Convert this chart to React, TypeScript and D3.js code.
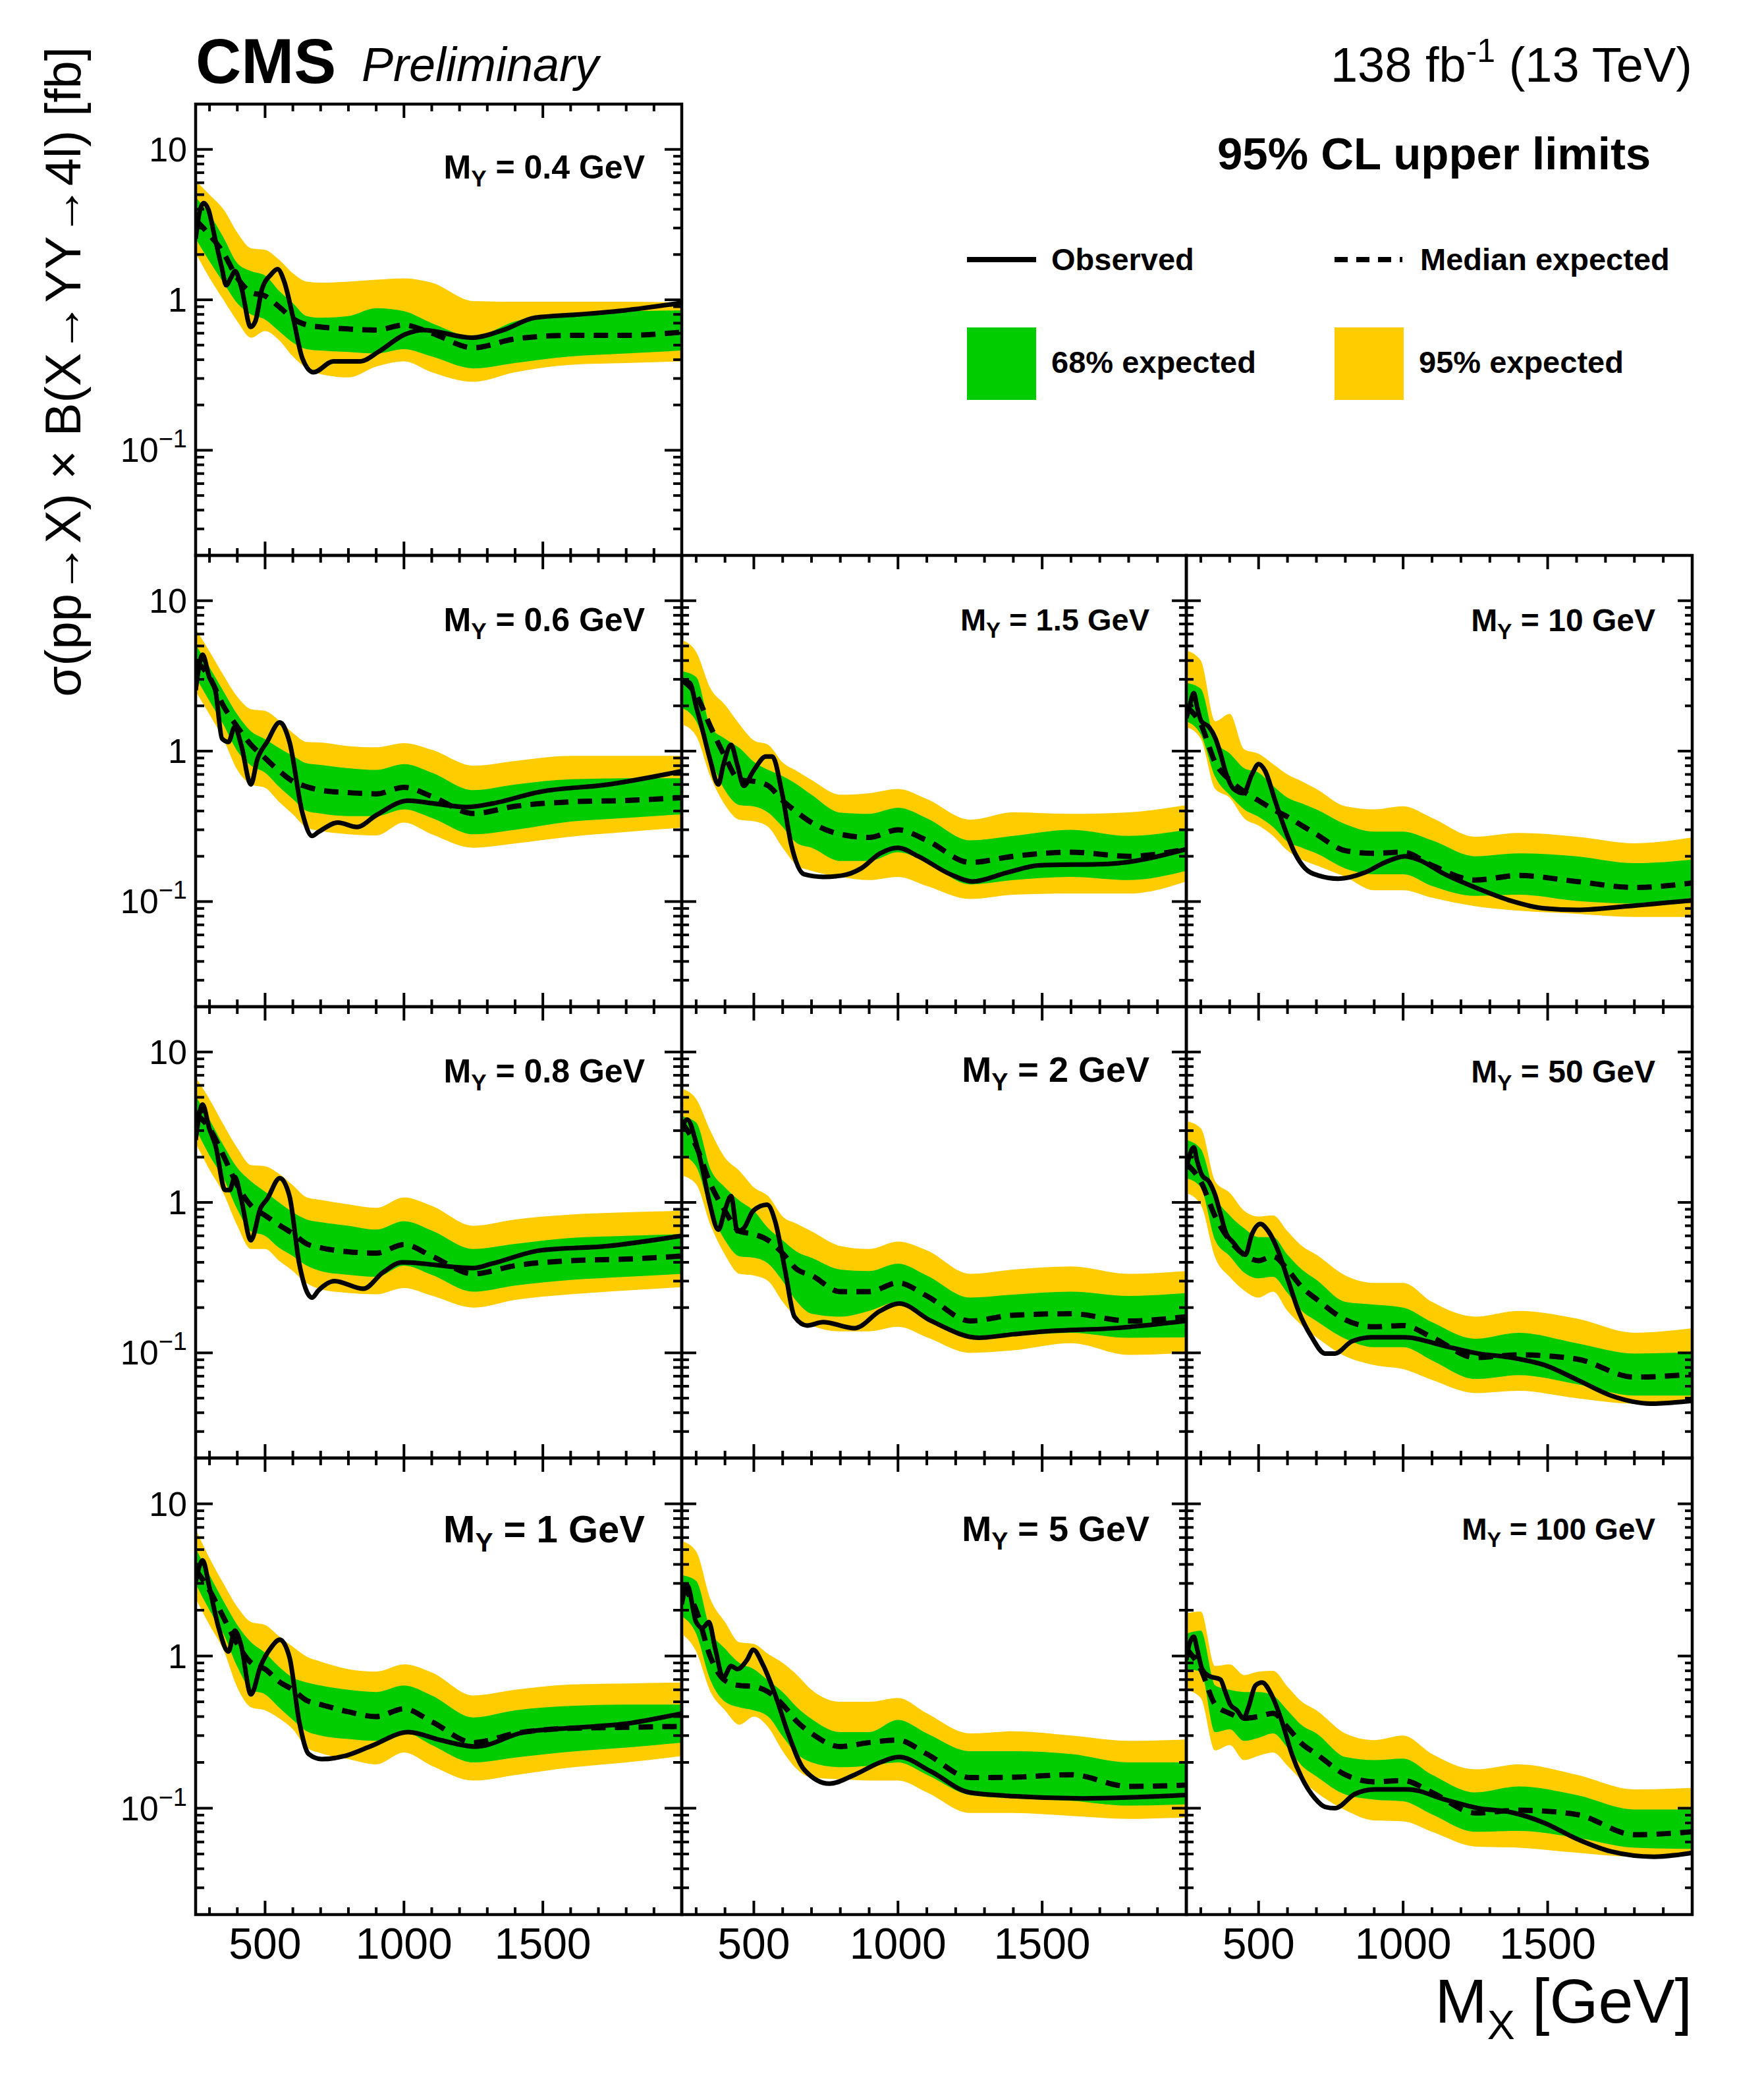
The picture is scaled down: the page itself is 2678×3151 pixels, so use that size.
import * as d3 from 'd3';

const FONT = '"Liberation Sans", Arial, Helvetica, sans-serif';
const GREEN = '#00cc00';
const YELLOW = '#ffcc00';

// M_X grid (GeV) on which the expected limit and the bands are read
const massGrid = [250, 300, 350, 400, 450, 500, 550, 600, 650, 700, 800, 900, 1000, 1100, 1250, 1400, 1600, 1800, 2000];

// M_Y = 0.4 GeV
const hi95_04 = [6.2, 5.0, 4.0, 2.8, 2.2, 2.15, 1.85, 1.5, 1.32, 1.3, 1.32, 1.36, 1.39, 1.3, 0.98, 0.97, 0.97, 0.97, 0.96];
const hi68_04 = [4.8, 3.7, 2.6, 1.75, 1.55, 1.45, 1.15, 0.95, 0.78, 0.76, 0.78, 0.88, 0.84, 0.7, 0.57, 0.72, 0.82, 0.84, 0.85];
const exp_04 = [3.4, 2.7, 2.05, 1.4, 1.12, 1.06, 0.9, 0.75, 0.68, 0.66, 0.64, 0.63, 0.68, 0.6, 0.48, 0.55, 0.58, 0.58, 0.61];
const lo68_04 = [2.55, 1.8, 1.3, 0.95, 0.8, 0.74, 0.62, 0.52, 0.47, 0.46, 0.45, 0.44, 0.47, 0.42, 0.35, 0.38, 0.42, 0.44, 0.46];
const lo95_04 = [2.05, 1.4, 1.0, 0.72, 0.56, 0.62, 0.54, 0.42, 0.35, 0.32, 0.305, 0.36, 0.39, 0.33, 0.285, 0.33, 0.37, 0.38, 0.39];
const obs_04 = [[250, 2.55], [263, 3.75], [279, 4.4], [296, 3.97], [320, 2.55], [344, 1.64], [360, 1.25], [376, 1.39], [392, 1.55], [416, 1.18], [448, 0.66], [465, 0.72], [489, 1.18], [521, 1.47], [545, 1.6], [569, 1.32], [601, 0.76], [634, 0.41], [674, 0.33], [746, 0.39], [843, 0.39], [907, 0.45], [1004, 0.59], [1068, 0.63], [1245, 0.56], [1358, 0.63], [1471, 0.76], [1632, 0.8], [1793, 0.85], [2000, 0.955]];

// M_Y = 0.6 GeV
const hi95_06 = [6.5, 4.6, 3.2, 2.3, 1.9, 1.85, 1.6, 1.32, 1.15, 1.14, 1.08, 1.06, 1.13, 1.02, 0.8, 0.86, 0.93, 0.93, 0.93];
const hi68_06 = [5.1, 3.6, 2.5, 1.75, 1.35, 1.2, 1.05, 0.93, 0.83, 0.81, 0.77, 0.75, 0.82, 0.72, 0.55, 0.6, 0.65, 0.66, 0.66];
const exp_06 = [4.0, 3.1, 2.0, 1.45, 1.1, 0.9, 0.74, 0.63, 0.58, 0.55, 0.53, 0.52, 0.575, 0.5, 0.385, 0.43, 0.46, 0.47, 0.49];
const lo68_06 = [3.1, 2.15, 1.5, 1.0, 0.8, 0.72, 0.58, 0.48, 0.4, 0.385, 0.37, 0.37, 0.41, 0.36, 0.28, 0.3, 0.34, 0.36, 0.38];
const lo95_06 = [2.5, 1.75, 1.2, 0.75, 0.6, 0.57, 0.46, 0.38, 0.31, 0.295, 0.28, 0.275, 0.335, 0.28, 0.228, 0.243, 0.27, 0.29, 0.31];
const obs_06 = [[250, 2.54], [275, 4.37], [299, 3.11], [322, 2.48], [345, 1.21], [368, 1.15], [391, 1.45], [414, 1.1], [449, 0.6], [472, 0.88], [507, 1.15], [553, 1.55], [588, 1.15], [634, 0.39], [669, 0.273], [692, 0.29], [762, 0.335], [831, 0.313], [900, 0.375], [1016, 0.469], [1109, 0.448], [1225, 0.425], [1317, 0.448], [1491, 0.537], [1734, 0.6], [2000, 0.736]];

// M_Y = 0.8 GeV
const hi95_08 = [6.8, 4.85, 3.3, 2.3, 1.77, 1.74, 1.55, 1.3, 1.08, 1.04, 0.97, 0.92, 1.08, 0.95, 0.7, 0.77, 0.83, 0.86, 0.88];
const hi68_08 = [5.1, 3.55, 2.4, 1.7, 1.38, 1.18, 1.0, 0.86, 0.77, 0.74, 0.7, 0.66, 0.75, 0.65, 0.49, 0.53, 0.58, 0.6, 0.615];
const exp_08 = [3.9, 3.1, 2.05, 1.3, 0.95, 0.82, 0.71, 0.62, 0.53, 0.5, 0.47, 0.46, 0.525, 0.44, 0.335, 0.38, 0.41, 0.42, 0.44];
const lo68_08 = [3.1, 2.05, 1.45, 0.9, 0.64, 0.6, 0.5, 0.44, 0.38, 0.35, 0.33, 0.32, 0.38, 0.33, 0.255, 0.28, 0.305, 0.32, 0.335];
const lo95_08 = [2.48, 1.65, 1.15, 0.7, 0.49, 0.49, 0.41, 0.35, 0.29, 0.265, 0.25, 0.245, 0.27, 0.24, 0.2, 0.225, 0.245, 0.26, 0.273];
const obs_08 = [[250, 2.6], [275, 4.47], [299, 3.11], [322, 2.37], [356, 1.21], [373, 1.21], [391, 1.48], [414, 1.05], [449, 0.56], [484, 0.92], [507, 1.05], [553, 1.45], [588, 1.1], [623, 0.392], [669, 0.233], [692, 0.26], [750, 0.3], [854, 0.267], [924, 0.342], [993, 0.4], [1248, 0.366], [1317, 0.392], [1491, 0.48], [1734, 0.513], [2000, 0.6]];

// M_Y = 1 GeV
const hi95_1 = [6.8, 4.4, 3.0, 2.1, 1.67, 1.6, 1.35, 1.15, 0.99, 0.92, 0.82, 0.79, 0.88, 0.78, 0.55, 0.6, 0.65, 0.66, 0.67];
const hi68_1 = [5.1, 3.4, 2.3, 1.6, 1.23, 1.05, 0.85, 0.72, 0.67, 0.64, 0.6, 0.58, 0.64, 0.55, 0.395, 0.44, 0.47, 0.48, 0.48];
const exp_1 = [3.7, 2.7, 1.8, 1.2, 0.9, 0.82, 0.68, 0.6, 0.51, 0.48, 0.43, 0.4, 0.45, 0.37, 0.27, 0.31, 0.335, 0.34, 0.345];
const lo68_1 = [2.98, 2.0, 1.4, 0.85, 0.6, 0.56, 0.46, 0.38, 0.32, 0.3, 0.285, 0.277, 0.316, 0.26, 0.2, 0.215, 0.235, 0.25, 0.27];
const lo95_1 = [2.39, 1.6, 1.1, 0.62, 0.46, 0.44, 0.39, 0.33, 0.25, 0.23, 0.21, 0.194, 0.232, 0.19, 0.152, 0.165, 0.185, 0.2, 0.22];
const obs_1 = [[250, 3.05], [275, 4.26], [299, 2.86], [333, 1.53], [368, 1.07], [391, 1.47], [414, 1.17], [449, 0.56], [484, 0.86], [519, 1.12], [553, 1.28], [588, 0.98], [623, 0.37], [657, 0.227], [704, 0.21], [785, 0.22], [877, 0.254], [1016, 0.316], [1132, 0.28], [1259, 0.254], [1433, 0.316], [1618, 0.338], [1803, 0.36], [2000, 0.42]];

// M_Y = 1.5 GeV
const hi95_15 = [5.47, 4.57, 2.6, 2.03, 1.51, 1.18, 1.1, 0.84, 0.736, 0.643, 0.513, 0.525, 0.56, 0.48, 0.35, 0.392, 0.383, 0.392, 0.438];
const hi68_15 = [3.4, 3.11, 1.45, 1.21, 1.05, 0.85, 0.75, 0.68, 0.6, 0.513, 0.39, 0.383, 0.42, 0.358, 0.255, 0.273, 0.3, 0.273, 0.3];
const exp_15 = [2.97, 2.37, 1.45, 0.92, 0.643, 0.63, 0.588, 0.469, 0.392, 0.335, 0.28, 0.267, 0.3, 0.255, 0.182, 0.2, 0.213, 0.2, 0.223];
const lo68_15 = [1.94, 1.58, 0.88, 0.549, 0.438, 0.429, 0.39, 0.313, 0.244, 0.228, 0.186, 0.186, 0.213, 0.182, 0.13, 0.139, 0.146, 0.139, 0.16];
const lo95_15 = [1.51, 1.26, 0.673, 0.438, 0.35, 0.342, 0.313, 0.228, 0.174, 0.16, 0.146, 0.139, 0.146, 0.127, 0.104, 0.111, 0.113, 0.113, 0.136];
const obs_15 = [[250, 2.97], [278, 2.84], [300, 1.98], [322, 1.38], [348, 0.88], [377, 0.6], [394, 0.806], [421, 1.1], [443, 0.806], [465, 0.588], [498, 0.736], [542, 0.92], [564, 0.92], [597, 0.537], [630, 0.238], [674, 0.152], [740, 0.146], [806, 0.149], [872, 0.166], [938, 0.209], [1000, 0.228], [1070, 0.2], [1181, 0.152], [1258, 0.136], [1379, 0.156], [1489, 0.174], [1731, 0.178], [2000, 0.223]];

// M_Y = 2 GeV
const hi95_2 = [5.7, 4.88, 2.97, 1.98, 1.62, 1.26, 1.1, 0.806, 0.72, 0.643, 0.513, 0.49, 0.549, 0.48, 0.335, 0.358, 0.375, 0.335, 0.35];
const hi68_2 = [3.73, 3.4, 1.66, 1.26, 1.03, 0.88, 0.673, 0.56, 0.469, 0.429, 0.358, 0.35, 0.392, 0.327, 0.233, 0.244, 0.255, 0.239, 0.25];
const exp_2 = [3.4, 2.37, 1.32, 0.88, 0.643, 0.615, 0.56, 0.459, 0.358, 0.327, 0.255, 0.255, 0.292, 0.239, 0.163, 0.178, 0.182, 0.163, 0.174];
const lo68_2 = [2.07, 1.73, 0.88, 0.56, 0.438, 0.429, 0.392, 0.3, 0.218, 0.182, 0.174, 0.19, 0.218, 0.174, 0.127, 0.13, 0.136, 0.126, 0.127];
const lo95_2 = [1.51, 1.32, 0.704, 0.448, 0.335, 0.327, 0.3, 0.218, 0.17, 0.152, 0.139, 0.139, 0.149, 0.127, 0.1, 0.104, 0.116, 0.097, 0.1];
const obs_2 = [[250, 3.11], [269, 3.56], [300, 2.48], [322, 1.66], [348, 0.965], [377, 0.658], [399, 0.88], [421, 1.1], [443, 0.643], [465, 0.673], [498, 0.88], [546, 0.965], [575, 0.736], [608, 0.358], [641, 0.174], [685, 0.152], [740, 0.16], [850, 0.146], [938, 0.19], [1004, 0.213], [1115, 0.163], [1280, 0.126], [1401, 0.133], [1511, 0.139], [1753, 0.146], [2000, 0.163]];

// M_Y = 5 GeV
const hi95_5 = [5.7, 4.87, 2.35, 1.67, 1.23, 1.2, 1.03, 0.9, 0.75, 0.6, 0.5, 0.5, 0.53, 0.42, 0.31, 0.32, 0.3, 0.277, 0.283];
const hi68_5 = [3.4, 3.12, 1.47, 1.12, 0.9, 0.82, 0.69, 0.58, 0.46, 0.386, 0.316, 0.316, 0.38, 0.31, 0.237, 0.237, 0.227, 0.2, 0.2];
const exp_5 = [2.98, 2.0, 0.98, 0.69, 0.64, 0.63, 0.58, 0.48, 0.37, 0.31, 0.254, 0.27, 0.28, 0.227, 0.159, 0.16, 0.166, 0.139, 0.142];
const lo68_5 = [1.83, 1.4, 0.69, 0.5, 0.46, 0.44, 0.4, 0.296, 0.227, 0.2, 0.186, 0.19, 0.2, 0.166, 0.122, 0.116, 0.112, 0.104, 0.106];
const lo95_5 = [1.4, 1.07, 0.58, 0.44, 0.354, 0.4, 0.34, 0.237, 0.18, 0.159, 0.155, 0.152, 0.152, 0.127, 0.093, 0.093, 0.089, 0.085, 0.087];
const obs_5 = [[250, 2.19], [269, 2.92], [300, 1.67], [322, 1.53], [344, 1.67], [366, 1.12], [394, 0.72], [421, 0.86], [443, 0.82], [476, 0.94], [498, 1.1], [531, 0.88], [575, 0.55], [619, 0.31], [674, 0.18], [762, 0.145], [850, 0.166], [938, 0.2], [1004, 0.217], [1115, 0.174], [1247, 0.127], [1401, 0.12], [1643, 0.116], [2000, 0.122]];

// M_Y = 10 GeV
const hi95_10 = [4.67, 4.0, 1.58, 1.77, 1.03, 0.96, 0.82, 0.7, 0.63, 0.56, 0.43, 0.41, 0.43, 0.36, 0.27, 0.286, 0.27, 0.244, 0.267];
const hi68_10 = [2.84, 2.6, 1.155, 0.965, 0.77, 0.72, 0.588, 0.49, 0.449, 0.41, 0.327, 0.292, 0.292, 0.255, 0.2, 0.209, 0.2, 0.18, 0.19];
const exp_10 = [1.98, 1.51, 0.84, 0.643, 0.537, 0.469, 0.41, 0.366, 0.32, 0.28, 0.218, 0.209, 0.213, 0.174, 0.139, 0.149, 0.136, 0.124, 0.133];
const lo68_10 = [1.58, 1.29, 0.673, 0.51, 0.41, 0.366, 0.313, 0.25, 0.228, 0.209, 0.166, 0.152, 0.152, 0.127, 0.109, 0.111, 0.101, 0.097, 0.106];
const lo95_10 = [1.45, 1.21, 0.56, 0.49, 0.358, 0.32, 0.273, 0.218, 0.19, 0.174, 0.146, 0.119, 0.119, 0.106, 0.093, 0.087, 0.083, 0.079, 0.079];
const obs_10 = [[250, 1.66], [259, 1.9], [276, 2.43], [287, 1.98], [302, 1.58], [328, 1.45], [351, 1.21], [368, 0.965], [385, 0.736], [414, 0.56], [448, 0.525], [477, 0.7], [500, 0.82], [523, 0.736], [557, 0.469], [592, 0.3], [626, 0.209], [661, 0.166], [707, 0.149], [776, 0.142], [868, 0.156], [937, 0.182], [1006, 0.2], [1052, 0.19], [1144, 0.152], [1259, 0.122], [1374, 0.101], [1489, 0.09], [1603, 0.088], [1776, 0.093], [2000, 0.102]];

// M_Y = 50 GeV
const hi95_50 = [3.48, 3.11, 1.38, 1.16, 0.88, 0.806, 0.82, 0.643, 0.513, 0.449, 0.327, 0.292, 0.292, 0.218, 0.174, 0.19, 0.169, 0.136, 0.146];
const hi68_50 = [2.6, 2.27, 1.1, 0.82, 0.673, 0.588, 0.588, 0.449, 0.358, 0.306, 0.218, 0.209, 0.2, 0.16, 0.124, 0.136, 0.116, 0.099, 0.101];
const exp_50 = [1.81, 1.38, 0.806, 0.56, 0.449, 0.41, 0.438, 0.358, 0.273, 0.228, 0.166, 0.149, 0.152, 0.127, 0.093, 0.097, 0.091, 0.069, 0.072];
const lo68_50 = [1.45, 1.26, 0.56, 0.44, 0.342, 0.313, 0.32, 0.25, 0.19, 0.163, 0.124, 0.109, 0.109, 0.089, 0.067, 0.071, 0.062, 0.052, 0.052];
const lo95_50 = [1.155, 0.965, 0.429, 0.32, 0.26, 0.233, 0.255, 0.19, 0.152, 0.127, 0.095, 0.083, 0.078, 0.066, 0.054, 0.056, 0.05, 0.046, 0.047];
const obs_50 = [[250, 1.66], [259, 1.98], [276, 2.32], [287, 1.9], [305, 1.51], [328, 1.38], [351, 1.1], [368, 0.84], [385, 0.643], [414, 0.537], [454, 0.449], [477, 0.615], [506, 0.72], [534, 0.643], [569, 0.469], [603, 0.3], [638, 0.19], [684, 0.127], [730, 0.099], [764, 0.099], [822, 0.119], [891, 0.127], [1006, 0.127], [1144, 0.111], [1259, 0.099], [1374, 0.093], [1489, 0.083], [1604, 0.066], [1719, 0.052], [1857, 0.046], [2000, 0.048]];

// M_Y = 100 GeV
const hi95_100 = [1.91, 1.96, 0.86, 0.88, 0.75, 0.79, 0.8, 0.63, 0.5, 0.44, 0.31, 0.28, 0.3, 0.227, 0.18, 0.194, 0.166, 0.133, 0.136];
const hi68_100 = [1.4, 1.47, 0.64, 0.6, 0.58, 0.58, 0.55, 0.44, 0.35, 0.31, 0.217, 0.207, 0.212, 0.166, 0.127, 0.139, 0.122, 0.098, 0.098];
const exp_100 = [1.12, 0.82, 0.48, 0.42, 0.39, 0.4, 0.42, 0.34, 0.265, 0.227, 0.166, 0.149, 0.152, 0.127, 0.093, 0.097, 0.091, 0.067, 0.07];
const lo68_100 = [0.82, 0.79, 0.316, 0.33, 0.277, 0.29, 0.31, 0.25, 0.19, 0.162, 0.123, 0.114, 0.111, 0.091, 0.07, 0.071, 0.064, 0.055, 0.054];
const lo95_100 = [0.6, 0.53, 0.24, 0.26, 0.207, 0.221, 0.232, 0.19, 0.152, 0.127, 0.097, 0.083, 0.082, 0.07, 0.056, 0.055, 0.051, 0.048, 0.05];
const obs_100 = [[250, 0.94], [259, 1.17], [276, 1.34], [287, 1.12], [305, 0.82], [328, 0.74], [368, 0.7], [385, 0.58], [402, 0.48], [425, 0.44], [448, 0.39], [465, 0.46], [489, 0.64], [512, 0.67], [546, 0.55], [581, 0.37], [615, 0.227], [649, 0.159], [695, 0.116], [730, 0.102], [764, 0.1], [833, 0.124], [902, 0.133], [1017, 0.133], [1144, 0.114], [1259, 0.1], [1374, 0.094], [1489, 0.08], [1604, 0.0625], [1719, 0.052], [1868, 0.048], [2000, 0.051]];

const panels = [
  { my: '0.4', row: 0, col: 0, fs: 50, dy: 113, hi95: hi95_04, hi68: hi68_04, exp: exp_04, lo68: lo68_04, lo95: lo95_04, obs: obs_04 },
  { my: '0.6', row: 1, col: 0, fs: 50, dy: 115, hi95: hi95_06, hi68: hi68_06, exp: exp_06, lo68: lo68_06, lo95: lo95_06, obs: obs_06 },
  { my: '1.5', row: 1, col: 1, fs: 47, dy: 114, hi95: hi95_15, hi68: hi68_15, exp: exp_15, lo68: lo68_15, lo95: lo95_15, obs: obs_15 },
  { my: '10', row: 1, col: 2, fs: 48, dy: 115, hi95: hi95_10, hi68: hi68_10, exp: exp_10, lo68: lo68_10, lo95: lo95_10, obs: obs_10 },
  { my: '0.8', row: 2, col: 0, fs: 50, dy: 115, hi95: hi95_08, hi68: hi68_08, exp: exp_08, lo68: lo68_08, lo95: lo95_08, obs: obs_08 },
  { my: '2', row: 2, col: 1, fs: 54, dy: 114, hi95: hi95_2, hi68: hi68_2, exp: exp_2, lo68: lo68_2, lo95: lo95_2, obs: obs_2 },
  { my: '50', row: 2, col: 2, fs: 48, dy: 115, hi95: hi95_50, hi68: hi68_50, exp: exp_50, lo68: lo68_50, lo95: lo95_50, obs: obs_50 },
  { my: '1', row: 3, col: 0, fs: 58, dy: 128, hi95: hi95_1, hi68: hi68_1, exp: exp_1, lo68: lo68_1, lo95: lo95_1, obs: obs_1 },
  { my: '5', row: 3, col: 1, fs: 54, dy: 126, hi95: hi95_5, hi68: hi68_5, exp: exp_5, lo68: lo68_5, lo95: lo95_5, obs: obs_5 },
  { my: '100', row: 3, col: 2, fs: 46, dy: 124, hi95: hi95_100, hi68: hi68_100, exp: exp_100, lo68: lo68_100, lo95: lo95_100, obs: obs_100 },
];

const xTickMajor = [500, 1000, 1500];
const xTickMinor = d3.range(300, 2000, 100).filter((v) => v % 500 !== 0);
const yTickMajor = [0.1, 1, 10];
const yTickMinor = [0.01, 0.1, 1].flatMap((d) => d3.range(2, 10).map((k) => +(k * d).toFixed(3))).filter((v) => v > 0.02);

const colEdges = [[297, 1035], [1035, 1801], [1801, 2569]];
const rowEdges = [[158, 843], [843, 1528], [1528, 2213], [2213, 2906]];

function Panel({ p, idx }) {
  const [x0, x1] = colEdges[p.col];
  const [y0, y1] = rowEdges[p.row];
  const x = d3.scaleLinear().domain([250, 2000]).range([x0, x1]);
  const y = d3.scaleLog().domain([0.02, 20]).range([y1, y0]);

  const band = (lo, hi) =>
    d3.area<number>()
      .x((d) => x(d))
      .y0((_, i) => y(lo[i]))
      .y1((_, i) => y(hi[i]))
      .curve(d3.curveMonotoneX)(massGrid);

  const expLine = d3.line<number>()
    .x((d) => x(d))
    .y((_, i) => y(p.exp[i]))
    .curve(d3.curveMonotoneX)(massGrid);

  const obsLine = d3.line<number[]>()
    .x((d) => x(d[0]))
    .y((d) => y(d[1]))
    .curve(d3.curveMonotoneX)(p.obs);

  const clipId = `clip-${idx}`;
  const yLen = p.col === 0 ? 26 : 22;

  return (
    <g>
      <defs>
        <clipPath id={clipId}>
          <rect x={x0} y={y0} width={x1 - x0} height={y1 - y0} />
        </clipPath>
      </defs>
      <g clipPath={`url(#${clipId})`}>
        <path d={band(p.lo95, p.hi95)} fill={YELLOW} />
        <path d={band(p.lo68, p.hi68)} fill={GREEN} />
        <path d={expLine} fill="none" stroke="#000" strokeWidth={8} strokeDasharray="22 14" />
        <path d={obsLine} fill="none" stroke="#000" strokeWidth={7} strokeLinejoin="round" />
      </g>

      {/* ticks on all four sides */}
      <g stroke="#000" strokeWidth={4}>
        {xTickMajor.map((v) => (
          <g key={`xM${v}`}>
            <line x1={x(v)} x2={x(v)} y1={y1} y2={y1 - 21} />
            <line x1={x(v)} x2={x(v)} y1={y0} y2={y0 + 21} />
          </g>
        ))}
        {xTickMinor.map((v) => (
          <g key={`xm${v}`}>
            <line x1={x(v)} x2={x(v)} y1={y1} y2={y1 - 11} />
            <line x1={x(v)} x2={x(v)} y1={y0} y2={y0 + 11} />
          </g>
        ))}
        {yTickMajor.map((v) => (
          <g key={`yM${v}`}>
            <line x1={x0} x2={x0 + yLen} y1={y(v)} y2={y(v)} />
            <line x1={x1} x2={x1 - yLen} y1={y(v)} y2={y(v)} />
          </g>
        ))}
        {yTickMinor.map((v) => (
          <g key={`ym${v}`}>
            <line x1={x0} x2={x0 + yLen / 2} y1={y(v)} y2={y(v)} />
            <line x1={x1} x2={x1 - yLen / 2} y1={y(v)} y2={y(v)} />
          </g>
        ))}
      </g>

      <rect x={x0} y={y0} width={x1 - x0} height={y1 - y0} fill="none" stroke="#000" strokeWidth={4.5} />

      {/* M_Y label */}
      <text x={x1 - 56} y={y0 + p.dy} textAnchor="end" fontFamily={FONT} fontWeight="bold" fontSize={p.fs}>
        M
        <tspan fontSize={p.fs * 0.7} dy={p.fs * 0.24}>Y</tspan>
        <tspan dy={-p.fs * 0.24}>{` = ${p.my} GeV`}</tspan>
      </text>

      {/* y tick labels on the left column */}
      {p.col === 0 &&
        yTickMajor.map((v) => (
          <text key={`yl${v}`} x={284} y={y(v) + 18} textAnchor="end" fontFamily={FONT} fontSize={52}>
            {v === 0.1 ? (
              <>
                10<tspan fontSize={38} dy={-22}>−1</tspan>
              </>
            ) : (
              String(v)
            )}
          </text>
        ))}

      {/* x tick labels on the bottom row */}
      {p.row === 3 &&
        xTickMajor.map((v) => (
          <text key={`xl${v}`} x={x(v)} y={2973} textAnchor="middle" fontFamily={FONT} fontSize={66}>
            {v}
          </text>
        ))}
    </g>
  );
}

export default function App() {
  return (
    <svg
      width={2678}
      height={3151}
      style={{ position: 'absolute', left: 0, top: 0, background: '#fff' }}
      fontFamily={FONT}
    >
      <rect x={0} y={0} width={2678} height={3151} fill="#fff" />

      {panels.map((p, i) => (
        <Panel key={p.my} p={p} idx={i} />
      ))}

      {/* header */}
      <text x={297} y={126} fontWeight="bold" fontSize={96}>CMS</text>
      <text x={549} y={123} fontStyle="italic" fontSize={72}>Preliminary</text>
      <text x={2569} y={124} textAnchor="end" fontSize={74}>
        138 fb<tspan fontSize={50} dy={-30}>-1</tspan>
        <tspan dy={30}> (13 TeV)</tspan>
      </text>
      <text x={1848} y={257} fontWeight="bold" fontSize={69}>95% CL upper limits</text>

      {/* legend */}
      <line x1={1468} x2={1573} y1={394} y2={394} stroke="#000" strokeWidth={8} />
      <text x={1596} y={410} fontWeight="bold" fontSize={47}>Observed</text>
      <line x1={2026} x2={2129} y1={394} y2={394} stroke="#000" strokeWidth={8} strokeDasharray="20 13" />
      <text x={2156} y={410} fontWeight="bold" fontSize={47}>Median expected</text>
      <rect x={1468} y={497} width={105} height={110} fill={GREEN} />
      <text x={1596} y={566} fontWeight="bold" fontSize={47}>68% expected</text>
      <rect x={2026} y={497} width={105} height={110} fill={YELLOW} />
      <text x={2154} y={566} fontWeight="bold" fontSize={47}>95% expected</text>

      {/* axis titles */}
      <text transform="translate(122,71) rotate(-90)" textAnchor="end" fontSize={76}>
        σ(pp→X) × B(X→YY→4l) [fb]
      </text>
      <text x={2569} y={3070} textAnchor="end" fontSize={95}>
        M<tspan fontSize={63} dy={25}>X</tspan>
        <tspan dy={-25}> [GeV]</tspan>
      </text>
    </svg>
  );
}
